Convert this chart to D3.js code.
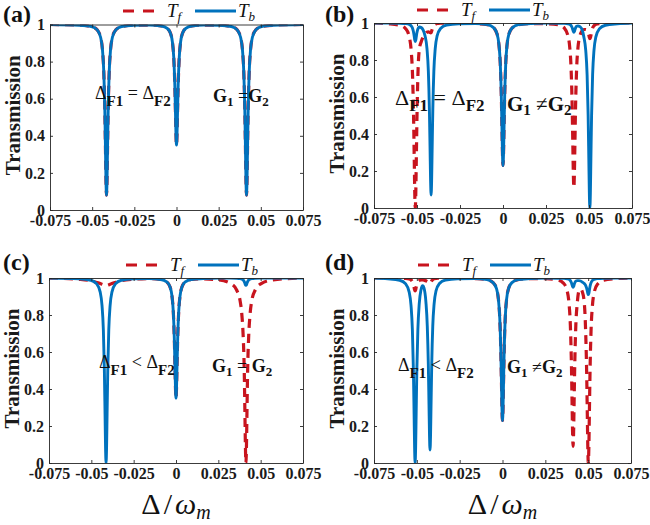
<!DOCTYPE html>
<html>
<head>
<meta charset="utf-8">
<script src="https://cdnjs.cloudflare.com/ajax/libs/d3/7.8.5/d3.min.js"></script>
<style>
  body { margin: 0; background: #fff; }
  svg { display: block; }
</style>
</head>
<body>
<div id="chart"></div>
<script>
// tick values and labels (same for all four panels)
const xTickVals = [-0.075, -0.05, -0.025, 0, 0.025, 0.05, 0.075];
const xTickLabels = ["-0.075", "-0.05", "-0.025", "0", "0.025", "0.05", "0.075"];
const yTickVals = [0, 0.2, 0.4, 0.6, 0.8, 1];
const yTickLabels = ["0", "0.2", "0.4", "0.6", "0.8", "1"];

// panel (a): detuning points and transmission
const xA = [-0.075,
  -0.0575, -0.0505, -0.047, -0.045, -0.0439, -0.0431, -0.0425, -0.0421, -0.0418, -0.0415, -0.0412, -0.0409, -0.0405, -0.0399, -0.0391, -0.038, -0.036, -0.0325, -0.0255,
  -0.016, -0.009, -0.0055, -0.0035, -0.0024, -0.0016, -0.001, -0.0006, -0.0003, 0, 0.0003, 0.0006, 0.001, 0.0016, 0.0024, 0.0035, 0.0055, 0.009, 0.016,
  0.0255, 0.0325, 0.036, 0.038, 0.0391, 0.0399, 0.0405, 0.0409, 0.0412, 0.0415, 0.0418, 0.0421, 0.0425, 0.0431, 0.0439, 0.045, 0.047, 0.0505, 0.0575,
  0.075];
const tfA = [1,
  0.996, 0.989, 0.971, 0.931, 0.864, 0.742, 0.54, 0.324, 0.156, 0.08, 0.156, 0.324, 0.54, 0.742, 0.864, 0.931, 0.971, 0.989, 0.996,
  0.997, 0.992, 0.979, 0.951, 0.904, 0.818, 0.675, 0.522, 0.404, 0.35, 0.404, 0.522, 0.675, 0.818, 0.904, 0.951, 0.979, 0.992, 0.997,
  0.996, 0.989, 0.971, 0.931, 0.864, 0.742, 0.54, 0.324, 0.156, 0.08, 0.156, 0.324, 0.54, 0.742, 0.864, 0.931, 0.971, 0.989, 0.996,
  1];
const tbA = [1,
  0.996, 0.989, 0.971, 0.931, 0.864, 0.742, 0.54, 0.324, 0.156, 0.08, 0.156, 0.324, 0.54, 0.742, 0.864, 0.931, 0.971, 0.989, 0.996,
  0.997, 0.992, 0.979, 0.951, 0.904, 0.818, 0.675, 0.522, 0.404, 0.35, 0.404, 0.522, 0.675, 0.818, 0.904, 0.951, 0.979, 0.992, 0.997,
  0.996, 0.989, 0.971, 0.931, 0.864, 0.742, 0.54, 0.324, 0.156, 0.08, 0.156, 0.324, 0.54, 0.742, 0.864, 0.931, 0.971, 0.989, 0.996,
  1];

// panel (b)
const xB = [-0.075,
  -0.067, -0.06, -0.0565, -0.0545, -0.0534, -0.0526, -0.052, -0.0516, -0.0513, -0.051, -0.0507, -0.0504, -0.05, -0.0494, -0.0486, -0.0475, -0.0464,
  -0.0453, -0.0442, -0.0434, -0.0428, -0.0424, -0.0421, -0.0418, -0.0415, -0.0412, -0.0408, -0.0402, -0.0394, -0.0383, -0.0363, -0.0328, -0.0258,
  -0.016, -0.009, -0.0055, -0.0035, -0.0024, -0.0016, -0.001, -0.0006, -0.0003, 0, 0.0003, 0.0006, 0.001, 0.0016, 0.0024, 0.0035, 0.0055, 0.009, 0.016,
  0.0252, 0.0322, 0.0357, 0.0377, 0.0388, 0.0396, 0.0402, 0.0406, 0.0409, 0.0412, 0.0415, 0.0418, 0.0422, 0.0428, 0.0436, 0.0447, 0.0458,
  0.047, 0.0481, 0.0489, 0.0495, 0.0499, 0.0502, 0.0505, 0.0508, 0.0511, 0.0515, 0.0521, 0.0529, 0.054, 0.056, 0.0595, 0.0665, 0.075];
const tfB = [1,
  0.996, 0.988, 0.968, 0.925, 0.852, 0.72, 0.5, 0.265, 0.083, 0, 0.083, 0.265, 0.5, 0.74, 0.86, 0.9, 0.925,
  0.94, 0.95, 0.952, 0.95, 0.948, 0.947, 0.948, 0.955, 0.965, 0.978, 0.988, 0.994, 0.997, 0.999, 1, 1,
  0.997, 0.991, 0.975, 0.942, 0.886, 0.784, 0.615, 0.434, 0.294, 0.23, 0.294, 0.434, 0.615, 0.784, 0.886, 0.942, 0.975, 0.991, 0.997,
  0.996, 0.99, 0.972, 0.933, 0.868, 0.75, 0.555, 0.345, 0.184, 0.11, 0.184, 0.345, 0.555, 0.75, 0.868, 0.93, 0.955,
  0.965, 0.965, 0.96, 0.95, 0.935, 0.922, 0.915, 0.92, 0.932, 0.953, 0.973, 0.985, 0.993, 0.997, 0.999, 1, 1];
const tbB = [1,
  1, 0.999, 0.997, 0.993, 0.985, 0.972, 0.95, 0.927, 0.908, 0.9, 0.908, 0.927, 0.95, 0.97, 0.978, 0.975, 0.962,
  0.93, 0.862, 0.74, 0.535, 0.316, 0.147, 0.07, 0.147, 0.316, 0.535, 0.74, 0.862, 0.93, 0.97, 0.989, 0.996,
  0.997, 0.991, 0.975, 0.942, 0.886, 0.784, 0.615, 0.434, 0.294, 0.23, 0.294, 0.434, 0.615, 0.784, 0.886, 0.942, 0.975, 0.991, 0.997,
  1, 0.999, 0.998, 0.996, 0.993, 0.986, 0.975, 0.963, 0.954, 0.95, 0.954, 0.963, 0.974, 0.982, 0.984, 0.98, 0.968,
  0.925, 0.852, 0.72, 0.5, 0.265, 0.083, 0, 0.083, 0.265, 0.5, 0.72, 0.852, 0.925, 0.968, 0.988, 0.996, 1];

// panel (c)
const xC = [-0.075,
  -0.0573, -0.0503, -0.0468, -0.0448, -0.0437, -0.0429, -0.0423, -0.0419, -0.0416, -0.0413, -0.041, -0.0407, -0.0403, -0.0397, -0.0389, -0.0378, -0.0358, -0.0323, -0.0253,
  -0.016, -0.009, -0.0055, -0.0035, -0.0024, -0.0016, -0.001, -0.0006, -0.0003, 0, 0.0003, 0.0006, 0.001, 0.0016, 0.0024, 0.0035, 0.0055, 0.009, 0.016,
  0.0253, 0.0323, 0.0358, 0.0378, 0.0389, 0.0397, 0.0403, 0.0407, 0.041, 0.0413, 0.0416, 0.0419, 0.0423, 0.0429, 0.0437, 0.0448, 0.0468, 0.0503, 0.0573,
  0.075];
const tfC = [1,
  0.993, 0.985, 0.976, 0.97, 0.966, 0.963, 0.961, 0.96, 0.96, 0.96, 0.96, 0.96, 0.961, 0.963, 0.966, 0.97, 0.976, 0.985, 0.993,
  0.997, 0.992, 0.979, 0.951, 0.904, 0.818, 0.675, 0.522, 0.404, 0.35, 0.404, 0.522, 0.675, 0.818, 0.904, 0.951, 0.979, 0.992, 0.995,
  0.99, 0.97, 0.935, 0.88, 0.8, 0.68, 0.5, 0.27, 0.085, 0, 0.085, 0.27, 0.5, 0.68, 0.8, 0.88, 0.935, 0.97, 0.99,
  1];
const tbC = [1,
  0.996, 0.988, 0.968, 0.925, 0.852, 0.72, 0.5, 0.265, 0.083, 0, 0.083, 0.265, 0.5, 0.72, 0.852, 0.925, 0.968, 0.988, 0.996,
  0.997, 0.992, 0.979, 0.951, 0.904, 0.818, 0.675, 0.522, 0.404, 0.35, 0.404, 0.522, 0.675, 0.818, 0.904, 0.951, 0.979, 0.992, 0.997,
  1, 1, 0.999, 0.997, 0.994, 0.989, 0.98, 0.971, 0.963, 0.96, 0.963, 0.971, 0.98, 0.989, 0.994, 0.997, 0.999, 1, 1,
  1];

// panel (d)
const xD = [-0.075,
  -0.067, -0.06, -0.0565, -0.0545, -0.0534, -0.0526, -0.052, -0.0516, -0.0513, -0.051, -0.0507, -0.0504, -0.05, -0.0494, -0.0486, -0.0476, -0.0466,
  -0.0458, -0.0447, -0.0439, -0.0433, -0.0429, -0.0426, -0.0423, -0.042, -0.0417, -0.0413, -0.0407, -0.0399, -0.0388, -0.0368, -0.0333, -0.0263,
  -0.016, -0.009, -0.0055, -0.0035, -0.0024, -0.0016, -0.001, -0.0006, -0.0003, 0, 0.0003, 0.0006, 0.001, 0.0016, 0.0024, 0.0035, 0.0055, 0.009, 0.016,
  0.0252, 0.0322, 0.0357, 0.0377, 0.0388, 0.0396, 0.0402, 0.0406, 0.0409, 0.0412, 0.0415, 0.0418, 0.0422, 0.0428, 0.0436, 0.0446, 0.0456,
  0.0466, 0.0477, 0.0485, 0.0491, 0.0495, 0.0498, 0.0501, 0.0504, 0.0507, 0.0511, 0.0517, 0.0525, 0.0536, 0.0556, 0.0591, 0.0661, 0.075];
const tfD = [1,
  1, 0.999, 0.998, 0.995, 0.99, 0.98, 0.965, 0.949, 0.936, 0.93, 0.936, 0.949, 0.965, 0.978, 0.986, 0.99, 0.99,
  0.988, 0.985, 0.98, 0.978, 0.974, 0.971, 0.97, 0.972, 0.978, 0.985, 0.992, 0.996, 0.998, 0.999, 1, 1,
  0.997, 0.991, 0.975, 0.942, 0.886, 0.784, 0.615, 0.434, 0.294, 0.23, 0.294, 0.434, 0.615, 0.784, 0.886, 0.942, 0.975, 0.991, 0.997,
  0.996, 0.989, 0.971, 0.932, 0.865, 0.745, 0.545, 0.331, 0.166, 0.09, 0.166, 0.331, 0.545, 0.745, 0.86, 0.93, 0.94,
  0.925, 0.87, 0.72, 0.5, 0.265, 0.083, 0, 0.083, 0.265, 0.5, 0.72, 0.852, 0.925, 0.968, 0.988, 0.996, 1];
const tbD = [1,
  0.996, 0.988, 0.968, 0.925, 0.852, 0.72, 0.5, 0.265, 0.083, 0, 0.083, 0.265, 0.5, 0.72, 0.86, 0.935, 0.958,
  0.945, 0.87, 0.74, 0.535, 0.316, 0.147, 0.07, 0.147, 0.316, 0.535, 0.74, 0.862, 0.93, 0.97, 0.989, 0.996,
  0.997, 0.991, 0.975, 0.942, 0.886, 0.784, 0.615, 0.434, 0.294, 0.23, 0.294, 0.434, 0.615, 0.784, 0.886, 0.942, 0.975, 0.991, 0.997,
  1, 0.999, 0.998, 0.996, 0.993, 0.986, 0.975, 0.963, 0.954, 0.95, 0.954, 0.963, 0.974, 0.983, 0.986, 0.986, 0.984,
  0.978, 0.97, 0.96, 0.945, 0.93, 0.917, 0.91, 0.917, 0.934, 0.955, 0.975, 0.987, 0.993, 0.997, 0.999, 1, 1];

const RED = "#c8141e";
const BLUE = "#0072bd";
const AXIS = "#262626";
const SERIF = "'Liberation Serif', 'Times New Roman', serif";

// layout of the four panels (pixel boxes, legend and note positions)
const panels = [
  { label: "(a)", lab: [3, 22], box: [50, 303, 24.5, 210], xs: xA, tf: tfA, tb: tbA, leg: [123, 11], xlabel: false,
    notes: [
      { x: 95, y: 99, size: 18, sub: 15, dy: 7, parts: [["Δ", "n"], ["F1", "s"], [" = ", "n"], ["Δ", "n"], ["F2", "s"]] },
      { x: 213, y: 102, size: 18, sub: 13, dy: 4, parts: [["G", "b"], ["1", "s"], [" =", "n"], ["G", "b"], ["2", "s"]] }
    ] },
  { label: "(b)", lab: [325, 22], box: [374, 632, 23, 208], xs: xB, tf: tfB, tb: tbB, leg: [417, 10], xlabel: false,
    notes: [
      { x: 395, y: 105, size: 22, sub: 17, dy: 6, parts: [["Δ", "n"], ["F1", "s"], [" = ", "n"], ["Δ", "n"], ["F2", "s"]] },
      { x: 507, y: 111, size: 21, sub: 15, dy: 4, parts: [["G", "b"], ["1", "s"], [" ≠", "n"], ["G", "b"], ["2", "s"]] }
    ] },
  { label: "(c)", lab: [3, 270], box: [49, 303, 278, 463], xs: xC, tf: tfC, tb: tbC, leg: [126, 265], xlabel: true,
    notes: [
      { x: 99, y: 368, size: 18, sub: 15, dy: 7, parts: [["Δ", "n"], ["F1", "s"], [" < ", "n"], ["Δ", "n"], ["F2", "s"]] },
      { x: 212, y: 372, size: 18, sub: 13, dy: 4, parts: [["G", "b"], ["1", "s"], [" = ", "n"], ["G", "b"], ["2", "s"]] }
    ] },
  { label: "(d)", lab: [325, 270], box: [374, 631, 278, 463], xs: xD, tf: tfD, tb: tbD, leg: [418, 265], xlabel: true,
    notes: [
      { x: 398, y: 371, size: 18, sub: 15, dy: 7, parts: [["Δ", "n"], ["F1", "s"], [" < ", "n"], ["Δ", "n"], ["F2", "s"]] },
      { x: 507, y: 373, size: 18, sub: 13, dy: 4, parts: [["G", "b"], ["1", "s"], [" ≠", "n"], ["G", "b"], ["2", "s"]] }
    ] }
];

const svg = d3.select("#chart")
    .append("svg")
    .attr("width", 650)
    .attr("height", 525)
    .style("font-family", SERIF);

svg.append("rect").attr("width", 650).attr("height", 525).attr("fill", "#fff");

panels.forEach(function(p, pi) {
    const [x0, x1, y0, y1] = p.box;
    const g = svg.append("g");

    const x = d3.scaleLinear().domain([-0.075, 0.075]).range([x0, x1]);
    const y = d3.scaleLinear().domain([0, 1]).range([y1, y0]);

    // clip lines to the axes box, like matlab does
    const clipId = "clip" + pi;
    svg.append("clipPath").attr("id", clipId)
        .append("rect")
        .attr("x", x0).attr("y", y0)
        .attr("width", x1 - x0).attr("height", y1 - y0);

    const line = d3.line()
        .x(d => x(d[0]))
        .y(d => y(d[1]))
        .curve(d3.curveMonotoneX);

    const curves = g.append("g").attr("clip-path", "url(#" + clipId + ")");

    // T_f first (dashed red), T_b on top (solid blue)
    curves.append("path")
        .datum(p.xs.map((v, i) => [v, p.tf[i]]))
        .attr("d", line)
        .attr("fill", "none")
        .attr("stroke", RED)
        .attr("stroke-width", 3.2)
        .attr("stroke-dasharray", "9,6");

    curves.append("path")
        .datum(p.xs.map((v, i) => [v, p.tb[i]]))
        .attr("d", line)
        .attr("fill", "none")
        .attr("stroke", BLUE)
        .attr("stroke-width", 2.9)
        .attr("stroke-linejoin", "round");

    // axes, ticks pointing inwards on all four sides
    const styleAxis = sel => {
        sel.attr("font-family", SERIF).attr("font-size", 16).attr("font-weight", "bold");
        sel.selectAll("path, line").attr("stroke", AXIS).attr("stroke-width", 0.9);
        sel.selectAll("text").attr("fill", "#1a1a1a");
    };

    g.append("g")
        .attr("transform", "translate(0," + y1 + ")")
        .call(d3.axisBottom(x).tickValues(xTickVals).tickFormat((d, i) => xTickLabels[i])
            .tickSizeInner(-3).tickSizeOuter(0).tickPadding(5))
        .call(styleAxis);
    g.append("g")
        .attr("transform", "translate(0," + y0 + ")")
        .call(d3.axisTop(x).tickValues(xTickVals).tickFormat("").tickSizeInner(-3).tickSizeOuter(0))
        .call(styleAxis);
    g.append("g")
        .attr("transform", "translate(" + x0 + ",0)")
        .call(d3.axisLeft(y).tickValues(yTickVals).tickFormat((d, i) => yTickLabels[i])
            .tickSizeInner(-3).tickSizeOuter(0).tickPadding(5))
        .call(styleAxis);
    g.append("g")
        .attr("transform", "translate(" + x1 + ",0)")
        .call(d3.axisRight(y).tickValues(yTickVals).tickFormat("").tickSizeInner(-3).tickSizeOuter(0))
        .call(styleAxis);

    // y label
    g.append("text")
        .attr("transform", "translate(" + (x0 - 37) + "," + ((y0 + y1) / 2 - 2) + ") rotate(-90)")
        .attr("text-anchor", "middle")
        .attr("dy", "0.33em")
        .attr("font-size", 21)
        .attr("font-weight", "bold")
        .attr("fill", "#1a1a1a")
        .text("Transmission");

    // x label only on the bottom row
    if (p.xlabel) {
        const t = g.append("text")
            .attr("x", (x0 + x1) / 2)
            .attr("y", 514)
            .attr("text-anchor", "middle")
            .attr("font-size", 30)
            .attr("fill", "#111");
        t.append("tspan").text("Δ");
        t.append("tspan").attr("dx", 3).text("/");
        t.append("tspan").attr("dx", 3).attr("font-style", "italic").text("ω");
        t.append("tspan").attr("font-style", "italic").attr("font-size", 20).attr("dy", 5).text("m");
    }

    // panel label
    g.append("text")
        .attr("x", p.lab[0])
        .attr("y", p.lab[1])
        .attr("font-size", 24)
        .attr("font-weight", "bold")
        .attr("fill", "#111")
        .text(p.label);

    // legend above the box
    const [lx, ly] = p.leg;
    g.append("line")
        .attr("x1", lx).attr("x2", lx + 31).attr("y1", ly).attr("y2", ly)
        .attr("stroke", RED).attr("stroke-width", 3.2).attr("stroke-dasharray", "11,9");
    const tf = g.append("text").attr("x", lx + 44).attr("y", ly + 6)
        .attr("font-size", 19).attr("font-style", "italic").attr("fill", "#111");
    tf.append("tspan").text("T");
    tf.append("tspan").attr("font-size", 13).attr("dy", 4).text("f");
    g.append("line")
        .attr("x1", lx + 72).attr("x2", lx + 113).attr("y1", ly).attr("y2", ly)
        .attr("stroke", BLUE).attr("stroke-width", 2.9);
    const tb = g.append("text").attr("x", lx + 115).attr("y", ly + 6)
        .attr("font-size", 19).attr("font-style", "italic").attr("fill", "#111");
    tb.append("tspan").text("T");
    tb.append("tspan").attr("font-size", 13).attr("dy", 4).text("b");

    // annotations inside the box
    p.notes.forEach(function(n) {
        const t = g.append("text")
            .attr("x", n.x).attr("y", n.y)
            .attr("font-size", n.size)
            .attr("fill", "#111");
        let low = false;
        n.parts.forEach(function(part) {
            const s = t.append("tspan").text(part[0]);
            if (part[1] === "s") {
                s.attr("font-size", n.sub).attr("font-weight", "bold");
                if (!low) s.attr("dy", n.dy);
                low = true;
            } else {
                if (low) s.attr("dy", -n.dy);
                low = false;
                if (part[1] === "b") s.attr("font-weight", "bold");
            }
        });
    });
});
</script>
</body>
</html>
